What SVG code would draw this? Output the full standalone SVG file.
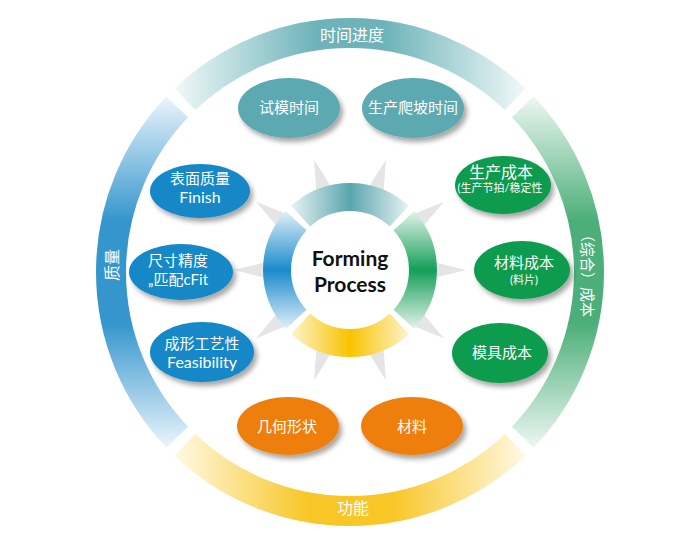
<svg xmlns="http://www.w3.org/2000/svg" width="700" height="540" viewBox="0 0 700 540">
<style>
text{font-family:Lato,"Noto Sans CJK SC",sans-serif;text-anchor:middle}
.lbl{fill:#ffffff;font-size:15px}
.lat{font-size:16px}
.sm{fill:#ffffff;font-size:11px}
.ring{fill:#ffffff;font-size:16px}
.arc{fill:none}
.o{stroke-width:30}
.i{stroke-width:28}
.ray{fill:#e5e5e5}
.teal{fill:#5ba9b2}
.blue{fill:#1288c8}
.green{fill:#0e9b4d}
.orange{fill:#ef7f0c}
.nd ellipse{filter:url(#sh)}
</style>
<defs>
<filter id="sh" x="-20%" y="-20%" width="150%" height="160%">
<feDropShadow dx="3" dy="4" stdDeviation="2.5" flood-color="#000" flood-opacity="0.35"/>
</filter>
<linearGradient id="gTopO" gradientUnits="userSpaceOnUse" x1="178" y1="0" x2="522" y2="0">
<stop offset="0" stop-color="#eef7f7"/><stop offset="0.4" stop-color="#6db3b9"/><stop offset="0.6" stop-color="#6db3b9"/><stop offset="1" stop-color="#eef7f7"/>
</linearGradient>
<linearGradient id="gLeftO" gradientUnits="userSpaceOnUse" x1="0" y1="100" x2="0" y2="444">
<stop offset="0" stop-color="#e6f2fa"/><stop offset="0.35" stop-color="#3596cd"/><stop offset="0.65" stop-color="#3596cd"/><stop offset="1" stop-color="#e6f2fa"/>
</linearGradient>
<linearGradient id="gRightO" gradientUnits="userSpaceOnUse" x1="0" y1="100" x2="0" y2="444">
<stop offset="0" stop-color="#e8f5ee"/><stop offset="0.35" stop-color="#4caf79"/><stop offset="0.65" stop-color="#4caf79"/><stop offset="1" stop-color="#e8f5ee"/>
</linearGradient>
<linearGradient id="gBotO" gradientUnits="userSpaceOnUse" x1="178" y1="0" x2="522" y2="0">
<stop offset="0" stop-color="#fff8df"/><stop offset="0.38" stop-color="#f8c626"/><stop offset="0.62" stop-color="#f8c626"/><stop offset="1" stop-color="#fff8df"/>
</linearGradient>
<linearGradient id="gTopI" gradientUnits="userSpaceOnUse" x1="292" y1="0" x2="408" y2="0">
<stop offset="0" stop-color="#e4f1f2"/><stop offset="0.5" stop-color="#5aa6ae"/><stop offset="1" stop-color="#e4f1f2"/>
</linearGradient>
<linearGradient id="gLeftI" gradientUnits="userSpaceOnUse" x1="0" y1="212" x2="0" y2="328">
<stop offset="0" stop-color="#ddeef8"/><stop offset="0.5" stop-color="#1a8bcb"/><stop offset="1" stop-color="#ddeef8"/>
</linearGradient>
<linearGradient id="gRightI" gradientUnits="userSpaceOnUse" x1="0" y1="212" x2="0" y2="328">
<stop offset="0" stop-color="#e0f2e8"/><stop offset="0.5" stop-color="#149f58"/><stop offset="1" stop-color="#e0f2e8"/>
</linearGradient>
<linearGradient id="gBotI" gradientUnits="userSpaceOnUse" x1="292" y1="0" x2="408" y2="0">
<stop offset="0" stop-color="#fdf3c8"/><stop offset="0.5" stop-color="#f8c300"/><stop offset="1" stop-color="#fdf3c8"/>
</linearGradient>
<polygon id="ray" points="116,0 78,-9.5 78,9.5"/>
</defs>
<rect width="700" height="540" fill="#ffffff"/>

<g id="outer-ring">
<path class="arc o" stroke="url(#gTopO)" d="M184.9,99.2 A239,239 0 0 1 515.1,99.2"/>
<path class="arc o" stroke="url(#gRightO)" d="M522.8,106.9 A239,239 0 0 1 522.8,437.1"/>
<path class="arc o" stroke="url(#gBotO)" d="M515.1,444.8 A239,239 0 0 1 184.9,444.8"/>
<path class="arc o" stroke="url(#gLeftO)" d="M177.2,437.1 A239,239 0 0 1 177.2,106.9"/>
<text class="ring" x="352" y="41">时间进度</text>
<text class="ring" x="353" y="514">功能</text>
<text class="ring" transform="translate(112,265) rotate(-90)" x="0" y="5.5">质量</text>
<text class="ring" transform="translate(587,272) rotate(90)" x="0" y="5.5" style="font-size:15px">（综合）成本</text>
</g>

<g id="connectors">
<use href="#ray" class="ray" transform="translate(350,270) rotate(0)"/>
<use href="#ray" class="ray" transform="translate(350,270) rotate(36)"/>
<use href="#ray" class="ray" transform="translate(350,270) rotate(72)"/>
<use href="#ray" class="ray" transform="translate(350,270) rotate(108)"/>
<use href="#ray" class="ray" transform="translate(350,270) rotate(144)"/>
<use href="#ray" class="ray" transform="translate(350,270) rotate(180)"/>
<use href="#ray" class="ray" transform="translate(350,270) rotate(216)"/>
<use href="#ray" class="ray" transform="translate(350,270) rotate(252)"/>
<use href="#ray" class="ray" transform="translate(350,270) rotate(288)"/>
<use href="#ray" class="ray" transform="translate(350,270) rotate(324)"/>
</g>

<g id="center">
<path class="arc i" stroke="url(#gTopI)" d="M300.7,216.2 A73,73 0 0 1 399.3,216.2"/>
<path class="arc i" stroke="url(#gRightI)" d="M403.8,220.7 A73,73 0 0 1 403.8,319.3"/>
<path class="arc i" stroke="url(#gBotI)" d="M399.3,323.8 A73,73 0 0 1 300.7,323.8"/>
<path class="arc i" stroke="url(#gLeftI)" d="M296.2,319.3 A73,73 0 0 1 296.2,220.7"/>
<text x="350" y="266" style="font-size:21px;font-weight:bold;fill:#111">Forming</text>
<text x="350" y="292" style="font-size:21px;font-weight:bold;fill:#111">Process</text>
</g>

<g id="n-shimo" class="nd">
<ellipse class="teal" cx="289" cy="108" rx="51" ry="30"/>
<text class="lbl" x="289" y="113">试模时间</text>
</g>
<g id="n-papo" class="nd">
<ellipse class="teal" cx="413" cy="108" rx="51" ry="30"/>
<text class="lbl" x="413" y="113">生产爬坡时间</text>
</g>
<g id="n-finish" class="nd">
<ellipse class="blue" cx="200" cy="191" rx="50" ry="27"/>
<text class="lbl" x="200" y="183.5">表面质量</text>
<text class="lbl lat" x="200" y="202.5">Finish</text>
</g>
<g id="n-fit" class="nd">
<ellipse class="blue" cx="181" cy="272" rx="52" ry="28"/>
<text class="lbl" x="178" y="265.5">尺寸精度</text>
<text class="lbl" x="178" y="284.5">„匹配cFit</text>
</g>
<g id="n-feas" class="nd">
<ellipse class="blue" cx="202" cy="352" rx="52" ry="30"/>
<text class="lbl" x="202" y="349">成形工艺性</text>
<text class="lbl lat" x="202" y="368">Feasibility</text>
</g>
<g id="n-prodcost" class="nd">
<ellipse class="green" cx="503" cy="185" rx="48" ry="29"/>
<text class="lbl" x="501" y="177.5" style="font-size:16px">生产成本</text>
<text class="sm" x="500" y="192">(生产节拍/稳定性</text>
</g>
<g id="n-matcost" class="nd">
<ellipse class="green" cx="522" cy="270" rx="48" ry="29"/>
<text class="lbl" x="524" y="267.5">材料成本</text>
<text class="sm" x="524" y="283.5">(料片)</text>
</g>
<g id="n-diecost" class="nd">
<ellipse class="green" cx="500" cy="353" rx="48" ry="30"/>
<text class="lbl" x="502" y="358">模具成本</text>
</g>
<g id="n-geom" class="nd">
<ellipse class="orange" cx="288" cy="426" rx="51" ry="29"/>
<text class="lbl" x="287" y="432">几何形状</text>
</g>
<g id="n-mat" class="nd">
<ellipse class="orange" cx="412" cy="426" rx="51" ry="29"/>
<text class="lbl" x="412" y="432">材料</text>
</g>
</svg>
